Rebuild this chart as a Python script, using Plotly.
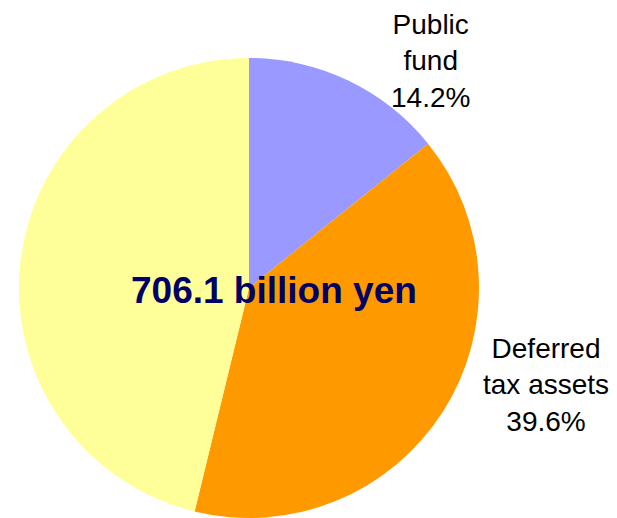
import plotly.graph_objects as go

# Composition of the 706.1 billion yen total
categories = ["Public fund", "Deferred tax assets", "Other"]
shares = [14.2, 39.6, 46.2]
label_lines = ["Public<br>fund", "Deferred<br>tax assets", None]
slice_colors = ["#9999FF", "#FF9900", "#FFFF99"]
total_text = "706.1 billion yen"

W, H = 617, 518
cx, cy, r = 249, 288, 230  # pie centre and radius in pixels

fig = go.Figure(
    go.Pie(
        labels=categories,
        values=shares,
        sort=False,
        direction="clockwise",
        rotation=0,
        marker=dict(colors=slice_colors, line=dict(width=0)),
        textinfo="none",
        hoverinfo="skip",
        showlegend=False,
        domain=dict(
            x=[(cx - r) / W, (cx + r) / W],
            y=[1 - (cy + r) / H, 1 - (cy - r) / H],
        ),
    )
)

label_pos = [(430, 61), (546, 385), None]
annotations = []
for txt, val, pos in zip(label_lines, shares, label_pos):
    if txt is None:
        continue
    annotations.append(
        dict(
            text=f"{txt}<br>{val:.1f}%",
            x=pos[0] / W,
            y=1 - pos[1] / H,
            xref="paper",
            yref="paper",
            xanchor="center",
            yanchor="middle",
            showarrow=False,
            align="center",
            font=dict(family="Liberation Sans, Arial, sans-serif", size=28, color="#000000"),
        )
    )

annotations.append(
    dict(
        text=f"<b>{total_text}</b>",
        x=273.5 / W,
        y=1 - 290 / H,
        xref="paper",
        yref="paper",
        xanchor="center",
        yanchor="middle",
        showarrow=False,
        font=dict(family="Liberation Sans, Arial, sans-serif", size=37, color="#000066"),
    )
)

fig.update_layout(
    width=W,
    height=H,
    margin=dict(l=0, r=0, t=0, b=0),
    paper_bgcolor="#FFFFFF",
    plot_bgcolor="#FFFFFF",
    annotations=annotations,
)

fig.write_html("out.html")
